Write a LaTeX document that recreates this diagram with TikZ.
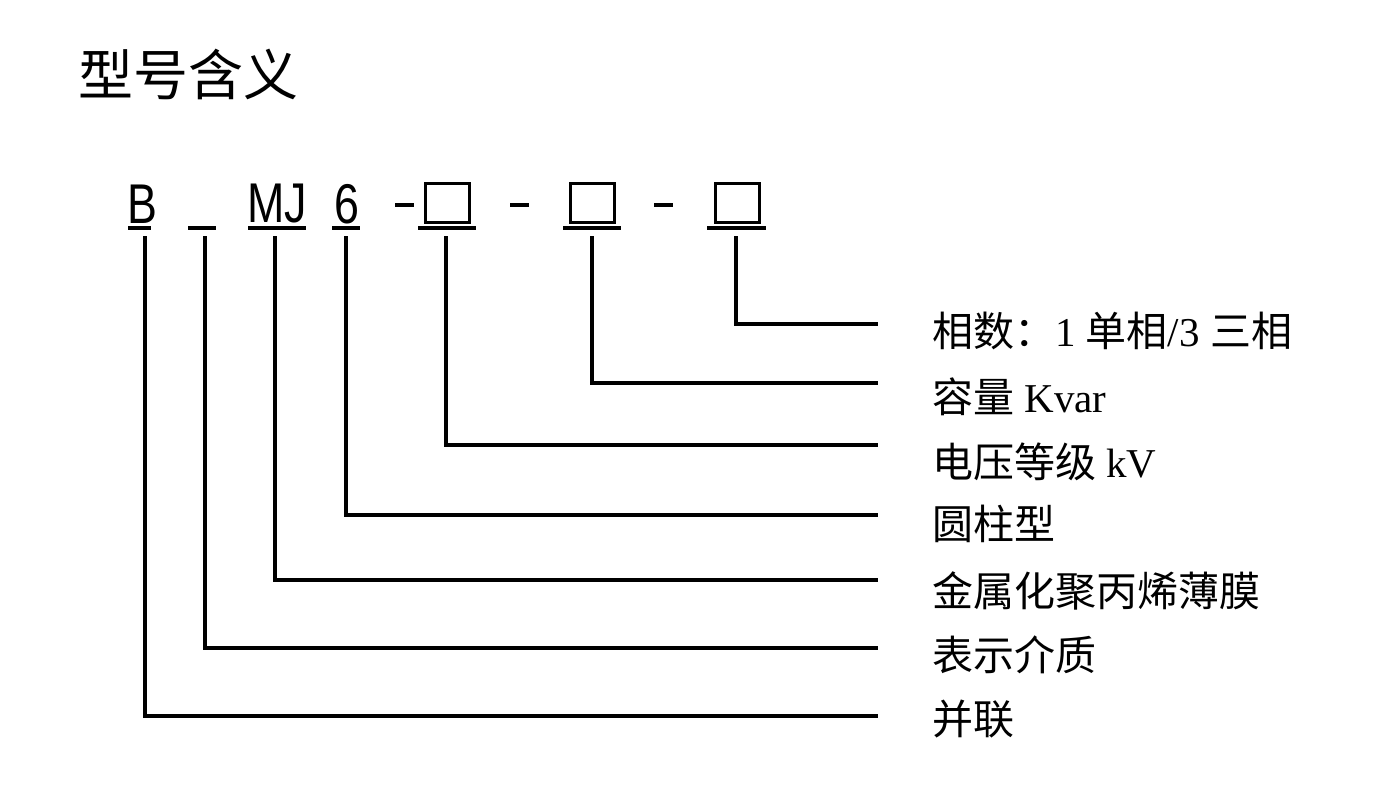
\documentclass[tikz,border=0pt]{standalone}
\usepackage{fontspec}
\setmainfont{Liberation Serif}
\newfontfamily\cjk{Noto Sans CJK SC}
\newfontfamily\codef{Liberation Sans}
\begin{document}
\begin{tikzpicture}[x=1pt,y=-1pt,
  ln/.style={line width=3.5pt},
  ul/.style={line width=3.5pt},
  lab/.style={anchor=west,inner sep=0pt,font=\fontsize{41}{46}\selectfont},
  code/.style={inner sep=0pt,font=\codef\fontsize{56}{60}\selectfont}]
\useasboundingbox (0,0) rectangle (1396,789);
\node[anchor=west,inner sep=0pt,font=\cjk\fontsize{55}{60}\selectfont] (title) at (78,74) {型号含义};
% code letters
\node[code,xscale=0.8] (cB) at (142,204) {B};
\node[code,xscale=0.8] (cMJ) at (277,204) {MJ};
\node[code,xscale=0.8] (c6) at (347,204) {6};
\foreach \x in {395,510,654}{\draw[ul] (\x,205) -- (\x+19,205);}
\foreach \x/\n in {447/b1,592/b2,737/b3}{\draw[line width=3pt] (\x-22,183) rectangle (\x+22,222); \coordinate (\n) at (\x,236);}
% underlines
\foreach \a/\b in {128/151,188/216,248/306,332/360,418/476,563/621,707/766}{\draw[ul] (\a,228) -- (\b,228);}
% labels
\node[lab] (l1) at (932,331) {{\cjk 相数：}1 {\cjk 单相}/3 {\cjk 三相}};
\node[lab] (l2) at (932,397) {{\cjk 容量} Kvar};
\node[lab] (l3) at (932,462) {{\cjk 电压等级} kV};
\node[lab] (l4) at (932,524) {\cjk 圆柱型};
\node[lab] (l5) at (932,591) {\cjk 金属化聚丙烯薄膜};
\node[lab] (l6) at (932,655) {\cjk 表示介质};
\node[lab] (l7) at (932,719) {\cjk 并联};
\foreach \x/\y in {736/324,592/383,446/445,346/515,275/580,205/648,145/716}{
  \draw[ln] (\x,236) -- (\x,\y) -- (878,\y);}
\end{tikzpicture}
\end{document}
